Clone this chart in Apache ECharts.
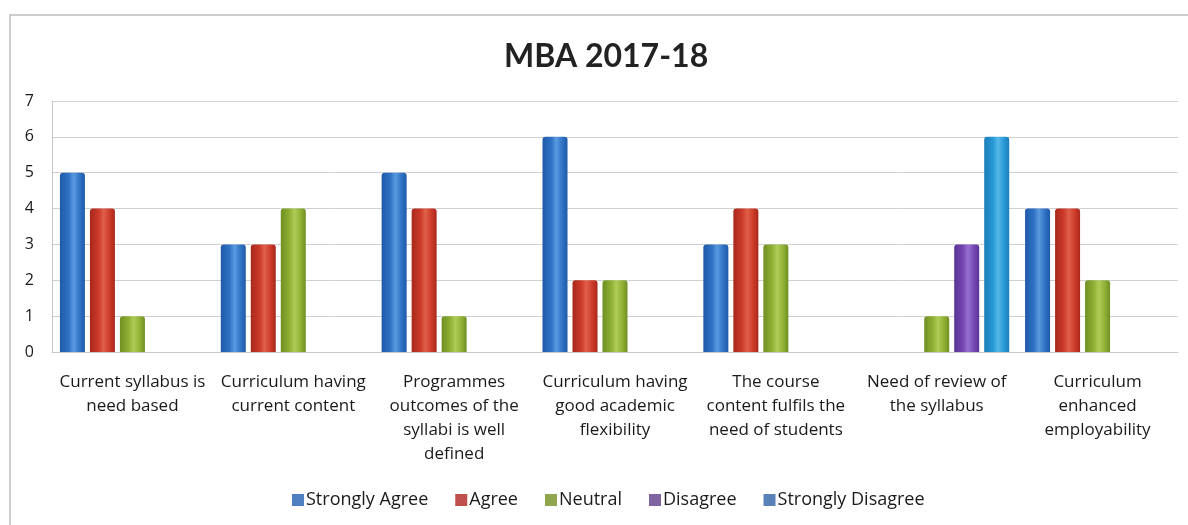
<!DOCTYPE html>
<html>
<head>
<meta charset="utf-8">
<script src="https://cdn.jsdelivr.net/npm/echarts@6/dist/echarts.min.js"></script>
<style>
  html, body { margin: 0; padding: 0; background: #fff; }
  #chart { width: 1188px; height: 525px; }
</style>
</head>
<body>
<div id="chart"></div>
<script>
const categories = [
  "Current syllabus is\nneed based",
  "Curriculum having\ncurrent content",
  "Programmes\noutcomes of the\nsyllabi is well\ndefined",
  "Curriculum having\ngood academic\nflexibility",
  "The course\ncontent fulfils the\nneed of students",
  "Need of review of\nthe syllabus",
  "Curriculum\nenhanced\nemployability"
];
const stronglyAgree = [5, 3, 5, 6, 3, 0, 4];
const agree = [4, 3, 4, 2, 4, 0, 4];
const neutral = [1, 4, 1, 2, 3, 1, 2];
const disagree = [0, 0, 0, 0, 0, 3, 0];
const stronglyDisagree = [0, 0, 0, 0, 0, 6, 0];

const yTicks = [0, 1, 2, 3, 4, 5, 6, 7];

// cylinder-ish look: dark edges, light middle
function cyl(dark, mid, light) {
  return new echarts.graphic.LinearGradient(0, 0, 1, 0, [
    { offset: 0, color: dark },
    { offset: 0.35, color: mid },
    { offset: 0.55, color: light },
    { offset: 0.8, color: mid },
    { offset: 1, color: dark }
  ]);
}

function bar(name, data, fill) {
  return {
    name: name,
    type: "bar",
    data: data,
    barWidth: 25,
    barGap: "20%",
    itemStyle: { color: fill, borderRadius: [3, 3, 0, 0] }
  };
}

const chart = echarts.init(document.getElementById("chart"));
chart.setOption({
  backgroundColor: "#fff",
  textStyle: { fontFamily: "Open Sans" },
  animation: false,
  title: {
    text: "MBA 2017-18",
    left: 499,
    top: 36,
    textStyle: { fontSize: 32, fontWeight: "bold", color: "#222", fontFamily: "Lato" }
  },
  legend: {
    bottom: 11,
    left: 287,
    itemWidth: 12,
    itemHeight: 12,
    itemGap: 27,
    icon: "rect",
    textStyle: { fontSize: 18, color: "#1a1a1a", padding: [0, 0, 0, -3] },
    data: [
      { name: "Strongly Agree", itemStyle: { color: "#4f7fc0" } },
      { name: "Agree", itemStyle: { color: "#c0504d" } },
      { name: "Neutral", itemStyle: { color: "#8fa64f" } },
      { name: "Disagree", itemStyle: { color: "#8064a2" } },
      { name: "Strongly Disagree", itemStyle: { color: "#5a80b8" } }
    ]
  },
  grid: { left: 52, right: 10, top: 101, bottom: 173 },
  xAxis: {
    type: "category",
    data: categories,
    axisLine: { lineStyle: { color: "#c8c8c8" } },
    axisTick: { show: false },
    axisLabel: {
      interval: 0,
      fontSize: 17,
      lineHeight: 24,
      color: "#1a1a1a",
      margin: 18
    }
  },
  yAxis: {
    type: "value",
    min: yTicks[0],
    max: yTicks[yTicks.length - 1],
    interval: 1,
    axisLine: { show: true, lineStyle: { color: "#c8c8c8" } },
    axisTick: { show: false },
    axisLabel: { fontSize: 16, color: "#1a1a1a", margin: 18 },
    splitLine: { lineStyle: { color: "#d0d0d0" } }
  },
  graphic: [
    {
      type: "polyline",
      shape: { points: [[10, 530], [10, 15], [1200, 15]] },
      style: { stroke: "#bdbdbd", lineWidth: 1.5, fill: null },
      silent: true
    }
  ],
  series: [
    bar("Strongly Agree", stronglyAgree, cyl("#1f5aa8", "#2f72c4", "#5a9ae0")),
    bar("Agree", agree, cyl("#a8281c", "#cc3a2a", "#e0604a")),
    bar("Neutral", neutral, cyl("#6f8f22", "#8fb034", "#b0cc58")),
    bar("Disagree", disagree, cyl("#5a3294", "#7446b4", "#9670d0")),
    bar("Strongly Disagree", stronglyDisagree, cyl("#1a7db8", "#2898d4", "#55b8ea"))
  ]
});

window.addEventListener("resize", () => {
  if (chart) {
    chart.resize();
  }
});
</script>
</body>
</html>
